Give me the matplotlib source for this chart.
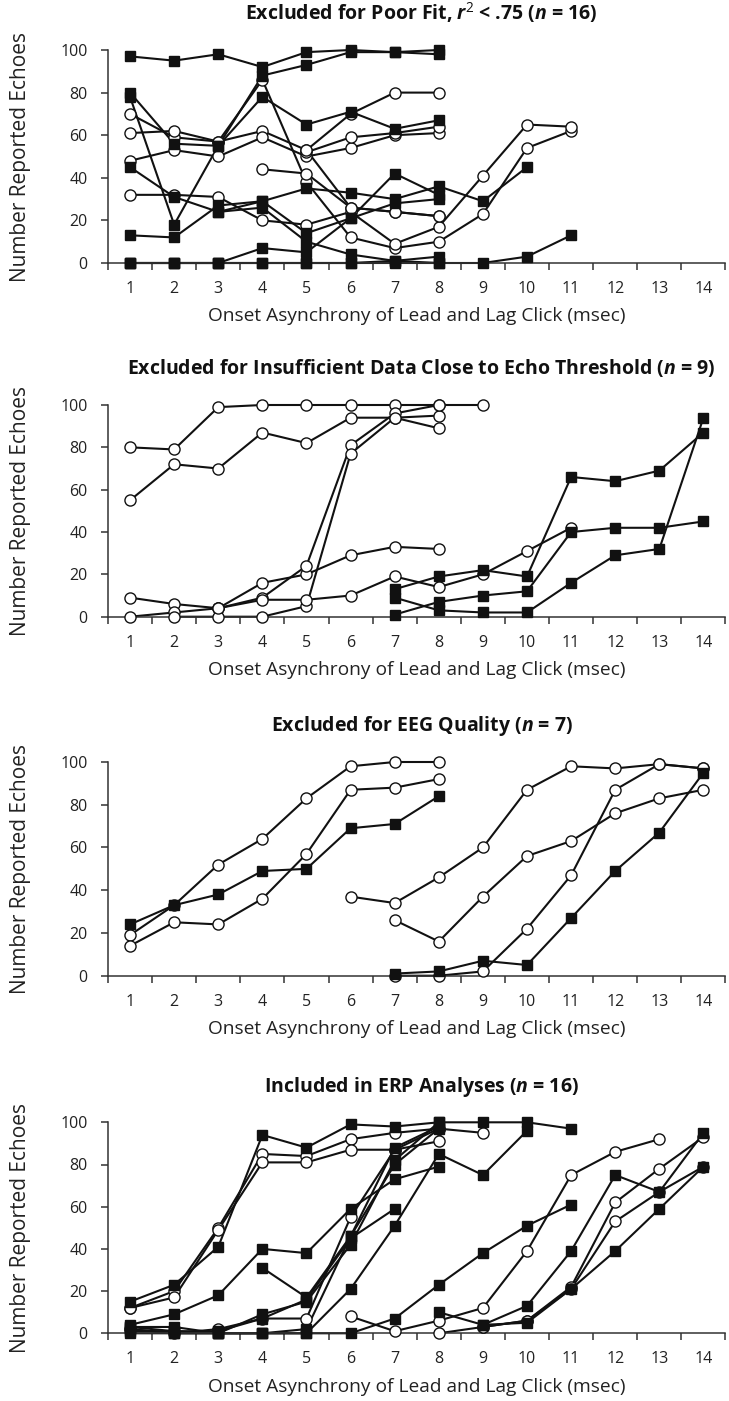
import matplotlib
matplotlib.use("Agg")
import matplotlib.pyplot as plt
import numpy as np

plt.rcParams['font.family'] = ['Open Sans', 'DejaVu Sans']
plt.rcParams['mathtext.fontset'] = 'custom'
plt.rcParams['mathtext.rm'] = 'Open Sans'
plt.rcParams['mathtext.it'] = 'Open Sans:italic'
plt.rcParams['mathtext.bf'] = 'Open Sans:bold'
try:
    plt.rcParams['mathtext.bfit'] = 'Open Sans:bold:italic'
except KeyError:
    pass

# ---------------- data: (start x, values, marker) ----------------
# Panel 1: Excluded for poor fit
p1_starts = [1, 1, 1, 1, 1, 1, 4, 1, 1, 1, 1, 1, 3, 5, 1, 5]
p1_values = [
    [97, 95, 98, 92, 99, 100, 99, 100],
    [78, 18, 55, 88, 93, 99, 99, 98],
    [80, 56, 55, 78, 65, 71, 63, 67],
    [70, 59, 57, 86, 38, 12, 7, 10, 23, 54, 62],
    [61, 62, 57, 62, 53, 70, 80, 80],
    [48, 53, 50, 59, 50, 54, 60, 61],
    [44, 42, 26, 24, 22],
    [45, 31, 24, 26, 10, 4, 1, 3],
    [32, 32, 31, 20, 18, 24, 9, 17, 41, 65, 64],
    [13, 12, 27, 29, 35, 33, 30, 36, 29, 45],
    [0, 0, 0, 7, 5, 21, 42, 32],
    [0, 0, 0, 0, 0, 0, 0, 0, 0, 3, 13],
    [24, 29, 14, 21, 28, 30],
    [52, 59, 61, 64],
    [0, 0, 0, 0, 0, 0, 1, 0],
    [53, 26, 24, 22],
]
p1_markers = ['s', 's', 's', 'o', 'o', 'o', 'o', 's', 'o', 's', 's', 's', 's', 'o', 's', 'o']

# Panel 2: Excluded for insufficient data close to echo threshold
p2_starts = [1, 1, 1, 1, 2, 3, 7, 7, 7]
p2_values = [
    [80, 79, 99, 100, 100, 100, 100, 100, 100],
    [55, 72, 70, 87, 82, 94, 94, 95],
    [9, 6, 4, 16, 20, 29, 33, 32],
    [0, 2, 4, 9, 24, 81, 96, 100],
    [0, 0, 0, 5, 77, 94, 89],
    [4, 8, 8, 10, 19, 14, 20, 31, 42],
    [13, 19, 22, 19, 66, 64, 69, 87],
    [1, 7, 10, 12, 40, 42, 42, 45],
    [9, 3, 2, 2, 16, 29, 32, 94],
]
p2_markers = ['o', 'o', 'o', 'o', 'o', 'o', 's', 's', 's']

# Panel 3: Excluded for EEG quality
p3_starts = [1, 1, 1, 6, 7, 7, 7]
p3_values = [
    [19, 33, 52, 64, 83, 98, 100, 100],
    [14, 25, 24, 36, 57, 87, 88, 92],
    [24, 33, 38, 49, 50, 69, 71, 84],
    [37, 34, 46, 60, 87, 98, 97, 99, 97],
    [26, 16, 37, 56, 63, 76, 83, 87],
    [0, 0, 2, 22, 47, 87, 99, 97],
    [1, 2, 7, 5, 27, 49, 67, 95],
]
p3_markers = ['o', 'o', 's', 'o', 'o', 'o', 's']

# Panel 4: Included in ERP analyses
p4_starts = [1, 1, 1, 1, 4, 1, 1, 1, 1, 1, 6, 8, 8, 9, 9, 1]
p4_values = [
    [15, 23, 41, 94, 88, 99, 98, 100, 100, 100, 97],
    [12, 20, 50, 85, 84, 92, 95, 97, 95],
    [12, 17, 49, 81, 81, 87, 87, 91],
    [4, 9, 18, 40, 38, 59, 73, 79],
    [31, 17, 46, 88, 98],
    [3, 3, 0, 9, 15, 42, 82, 100],
    [2, 0, 2, 7, 7, 55, 87, 97],
    [1, 1, 0, 0, 2, 46, 80, 97],
    [0, 0, 0, 0, 0, 21, 51, 85, 75, 96],
    [2, 0, 0, 0, 0, 0, 7, 23, 38, 51, 61],
    [8, 1, 6, 12, 39, 75, 86, 92],
    [0, 3, 6, 22, 62, 78, 93],
    [10, 4, 13, 39, 75, 67, 95],
    [4, 5, 21, 39, 59, 79],
    [3, 6, 21, 53, 67, 79],
    [3, 1, 1, 7, 16, 45, 59],
]
p4_markers = ['s', 'o', 'o', 's', 's', 's', 'o', 's', 's', 's', 'o', 'o', 's', 's', 'o', 's']

titles = [
    r"Excluded for Poor Fit, $\mathbfit{r}^2$ < .75 ($\mathbfit{n}$ = 16)",
    r"Excluded for Insufficient Data Close to Echo Threshold ($\mathbfit{n}$ = 9)",
    r"Excluded for EEG Quality ($\mathbfit{n}$ = 7)",
    r"Included in ERP Analyses ($\mathbfit{n}$ = 16)",
]
x_ticks = list(range(1, 15))
y_ticks = [0, 20, 40, 60, 80, 100]
xlabel = "Onset Asynchrony of Lead and Lag Click (msec)"
ylabel = "Number Reported Echoes"

panels = [
    (p1_starts, p1_values, p1_markers),
    (p2_starts, p2_values, p2_markers),
    (p3_starts, p3_values, p3_markers),
    (p4_starts, p4_values, p4_markers),
]

W, H = 729, 1401
fig = plt.figure(figsize=(W / 100, H / 100), dpi=100)

# axes pixel boxes (top, bottom) of the 0..100 range
boxes = [(50, 263), (405, 616.7), (762, 975.7), (1122.3, 1333.3)]
left_px, right_px = 108, 725.5

for (top, bot), (starts, vals, marks), title in zip(boxes, panels, titles):
    ax = fig.add_axes([left_px / W, 1 - bot / H, (right_px - left_px) / W, (bot - top) / H])
    for s, v, m in zip(starts, vals, marks):
        xs = np.arange(s, s + len(v))
        ax.plot(xs, v, color='#111111', lw=1.5, zorder=2, clip_on=False)
    for s, v, m in zip(starts, vals, marks):
        xs = np.arange(s, s + len(v))
        if m == 's':
            ax.plot(xs, v, ls='none', marker='s', ms=7, mfc='#111111', mec='#111111',
                    zorder=4, clip_on=False)
        else:
            ax.plot(xs, v, ls='none', marker='o', ms=8, mfc='white', mec='#111111',
                    mew=1.0, zorder=3, clip_on=False)
    ax.set_xlim(0.5, 14.5)
    ax.set_ylim(0, 100)
    ax.set_xticks(x_ticks)
    ax.set_xticklabels([str(t) for t in x_ticks], fontsize=11.5, color='#222222')
    ax.set_xticks(np.arange(0.5, 15, 1), minor=True)
    ax.tick_params(axis='x', which='major', length=0, pad=13)
    ax.tick_params(axis='x', which='minor', length=5, width=1.1, direction='out', color='#333333')
    ax.set_yticks(y_ticks)
    ax.set_yticklabels([str(t) for t in y_ticks], fontsize=11.5, color='#222222')
    ax.tick_params(axis='y', length=5, width=1.1, direction='out', color='#333333', pad=9.5)
    for sp in ['top', 'right']:
        ax.spines[sp].set_visible(False)
    for sp in ['left', 'bottom']:
        ax.spines[sp].set_linewidth(1.1)
        ax.spines[sp].set_color('#333333')
    ax.set_xlabel(xlabel, fontsize=13.8, color='#222222', labelpad=7.5)
    ax.set_ylabel(ylabel, fontsize=15, color='#222222')
    ax.yaxis.set_label_coords(-0.124, 0.5)
    ax.set_title(title, fontsize=14, fontweight='bold', color='#111111', pad=22, x=0.5077)

fig.savefig("out.png", dpi=100)
